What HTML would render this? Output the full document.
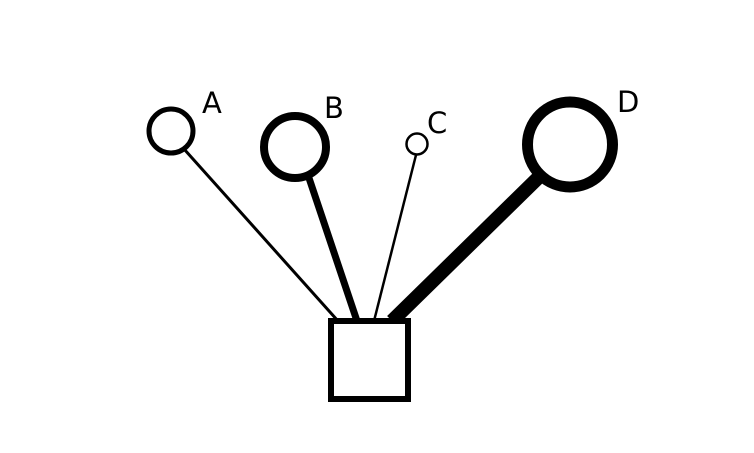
<!DOCTYPE html>
<html><head><meta charset="utf-8"><style>html,body{margin:0;padding:0;background:#fff}svg{display:block}</style></head>
<body>
<svg width="754" height="453" viewBox="0 0 754 453" xmlns="http://www.w3.org/2000/svg">
<rect width="754" height="453" fill="#fff"/>
<g stroke="#000" fill="none">
<line x1="184" y1="149" x2="338" y2="321" stroke-width="3"/>
<line x1="309" y1="178" x2="357" y2="321" stroke-width="7"/>
<line x1="416" y1="155" x2="374" y2="321" stroke-width="2.5"/>
<line x1="542" y1="174" x2="392" y2="321" stroke-width="14"/>
<circle cx="171" cy="131" r="22" stroke-width="5" fill="#fff"/>
<circle cx="295" cy="147" r="31" stroke-width="8" fill="#fff"/>
<circle cx="417" cy="144" r="10.5" stroke-width="2.5" fill="#fff"/>
<circle cx="570" cy="144.5" r="42.5" stroke-width="11" fill="#fff"/>
<rect x="331" y="321" width="77" height="78" stroke-width="6" fill="#fff"/>
</g>
<g font-family="DejaVu Sans, Liberation Sans, sans-serif" font-size="29" fill="#000">
<text x="202" y="113">A</text>
<text x="324" y="118">B</text>
<text x="427" y="133">C</text>
<text x="617" y="112">D</text>
</g>
</svg>
</body></html>
